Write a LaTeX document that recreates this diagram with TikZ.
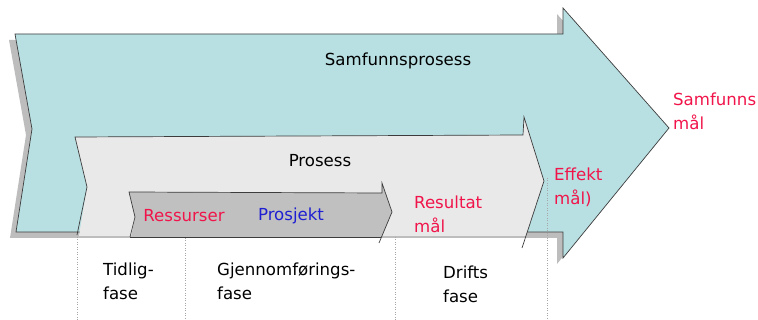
\documentclass[tikz,border=0pt]{standalone}
\usepackage{fontspec}
\setmainfont{DejaVu Sans}
\definecolor{tealfill}{HTML}{B8DFE2}
\definecolor{procfill}{HTML}{E9E9E9}
\definecolor{projfill}{HTML}{C0C0C0}
\definecolor{shadowgray}{HTML}{BDBDBD}
\definecolor{edge}{HTML}{3C3C3C}
\definecolor{goalred}{HTML}{F0144A}
\definecolor{projblue}{HTML}{1E1ED2}
\tikzset{
  outline/.style={draw=edge, line width=0.7pt, line join=miter},
  label/.style={inner sep=0pt, font=\fontsize{16.6}{23.5}\selectfont, align=left},
  redlabel/.style={label, text=goalred, anchor=north west},
  phaselabel/.style={label, text=black, anchor=north west},
  divider/.style={draw=gray!70, line width=0.5pt, dotted},
}
\begin{document}
\begin{tikzpicture}[x=1pt, y=-1pt]
\useasboundingbox (0,0) rectangle (758,320);

% society process arrow: shadow, then body
\fill[shadowgray, shift={(-6,6)}]
  (15,34) -- (563,34) -- (563,8) -- (669,128) -- (563,258) -- (563,232)
  -- (16,232) -- (32,129) -- cycle;
\path[fill=tealfill, outline]
  (15,34) -- (563,34) -- (563,8) -- (669,128) -- (563,258) -- (563,232)
  -- (16,232) -- (32,129) -- cycle;

% process arrow: fill kept above the phase row, outline left open below
\begin{scope}
  \clip (0,0) rectangle (758,235.5);
  \fill[procfill] (75,137) -- (523,135) -- (524,117) -- (544,181)
    -- (522,248) -- (77,248) -- (87,187) -- cycle;
\end{scope}
\draw[outline] (77,235) -- (87,187) -- (75,137) -- (523,135) -- (524,117)
  -- (544,181) -- (522,248);

% project arrow
\begin{scope}
  \clip (0,0) rectangle (758,237);
  \fill[projfill] (129,192) -- (382,193) -- (382,183) -- (392,212)
    -- (379,243) -- (130,243) -- (135,217) -- cycle;
\end{scope}
\draw[outline] (130,237) -- (135,217) -- (129,192) -- (382,193) -- (382,183)
  -- (392,212) -- (379,243);
\draw[outline] (130,237) -- (381,237);

% phase dividers
\coordinate (d1t) at (77,237);  \coordinate (d1b) at (77,320);
\coordinate (d2t) at (185,238); \coordinate (d2b) at (185,320);
\coordinate (d3t) at (395,237); \coordinate (d3b) at (395,320);
\coordinate (d4t) at (547,178); \coordinate (d4b) at (547,320);
\draw[divider] (d1t) -- (d1b);
\draw[divider] (d2t) -- (d2b);
\draw[divider] (d3t) -- (d3b);
\draw[divider] (d4t) -- (d4b);

% labels
\node[label] (samf) at (398,61) {Samfunnsprosess};
\node[label] (pros) at (320,161) {Prosess};
\node[label, text=goalred] (ress) at (184,216) {Ressurser};
\node[label, text=projblue] (prj) at (291,216) {Prosjekt};
\node[redlabel] (resmal) at (414,196) {Resultat\\mål};
\node[redlabel] (effmal) at (554,168) {Effekt\\mål)};
\node[redlabel] (samfmal) at (673,93) {Samfunns\\mål};
\node[phaselabel] (tidlig) at (103,263) {Tidlig-\\fase};
\node[phaselabel] (gjen) at (217,263) {Gjennomførings-\\fase};
\node[phaselabel] (drift) at (443,266) {Drifts\\fase};
\end{tikzpicture}
\end{document}
